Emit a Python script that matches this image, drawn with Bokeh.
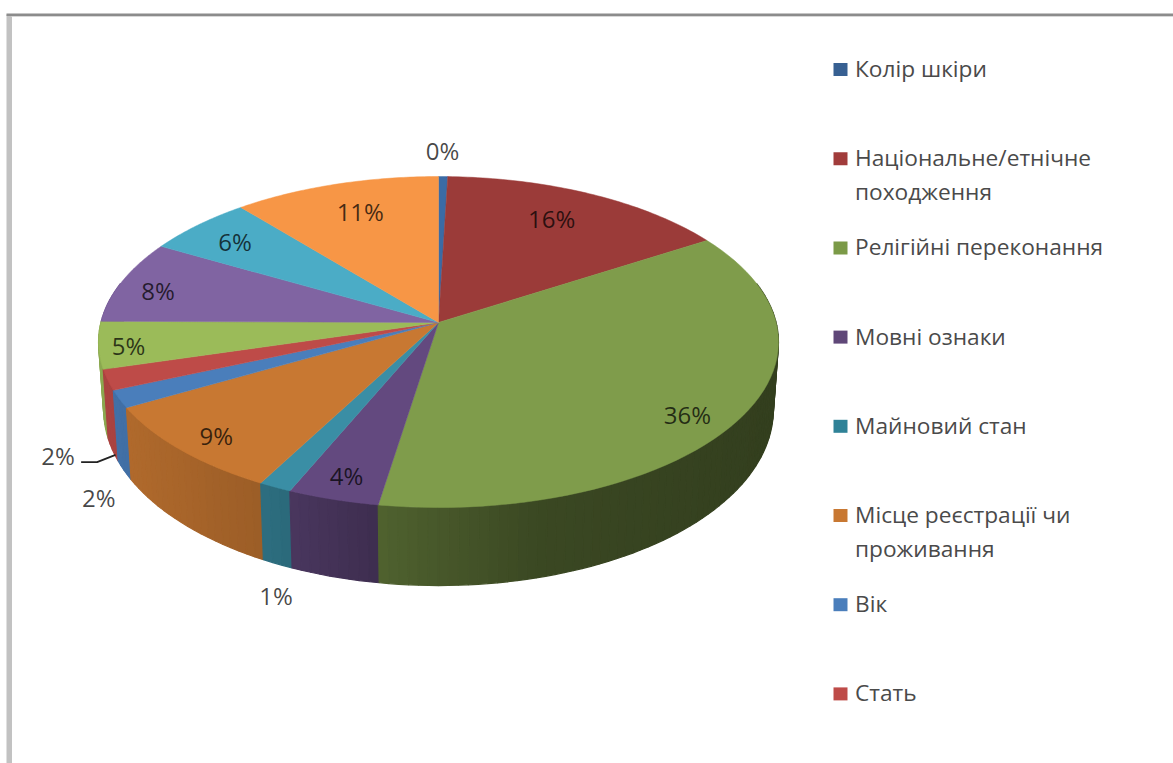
import numpy as np
from bokeh.plotting import figure
from bokeh.models import Range1d
from bokeh.core.properties import value
from bokeh.embed import file_html
from bokeh.resources import INLINE

# ---- data ----
slice_values = [0.49, 15.54, 36.49, 3.9, 1.4, 9.0, 1.7, 2.0, 4.6, 8.1, 5.75, 11.03]
slice_labels = ["0%", "16%", "36%", "4%", "1%", "9%", "2%", "2%", "5%", "8%", "6%", "11%"]
slice_colors = ["#3b6ba5", "#9b3b39", "#7f9c4b", "#63497f", "#3a8ea5", "#c87832",
                "#4a7ebb", "#be4b48", "#9bbb59", "#8064a2", "#4bacc6", "#f79646"]
legend_entries = [["Колір шкіри"], ["Національне/етнічне", "походження"],
                  ["Релігійні переконання"], ["Мовні ознаки"], ["Майновий стан"],
                  ["Місце реєстрації чи", "проживання"], ["Вік"], ["Стать"]]
legend_colors = ["#376092", "#a13c3b", "#7b9a47", "#5f4778", "#2f8297", "#c87832", "#4a7ebb", "#be4b48"]

# ---- layout (pixel frame of the picture) ----
CX, CY = 438.0, 322.0
A, B, K = 163.2, 337.6, 0.118
label_angle = [0.65, 28, 127.7, 196.1, 196, 223.3, 223, 234, 261, 283, 309, 341]
label_radius = [1.196, .772, .873, .884, 1.458, .887, 1.309, 1.27, .914, .872, .823, .773]
shade_x = [-340, -180, -65, 100, 340]
shade_f = [.90, .78, .63, .46, .40]


def project(theta, r=1.0):
    s, c = r * np.sin(theta), r * np.cos(theta)
    w = 1 + K * c
    return CX + B * s / w, CY - A * c / w


def project_low(theta):
    x, y = project(theta)
    return CX + (x - CX) * 0.985, y + 66 - 12 * np.cos(theta)


def shade(hex_color, f):
    rgb = [int(hex_color[i:i + 2], 16) for i in (1, 3, 5)]
    return "#%02x%02x%02x" % tuple(int(round(v * f)) for v in rgb)


p = figure(width=1173, height=763, output_backend="svg", toolbar_location=None,
           x_range=Range1d(0, 1173), y_range=Range1d(763, 0),
           x_axis_type=None, y_axis_type=None, min_border=0,
           outline_line_color=None, background_fill_color="white")
p.grid.visible = False

# frame remnants
p.quad(left=[6], right=[11.5], top=[14], bottom=[763], fill_color="#c2c2c2", line_color=None)
p.quad(left=[6], right=[1173], top=[13], bottom=[15.5], fill_color="#8c8c8c", line_color=None)
p.quad(left=[11], right=[1173], top=[15.5], bottom=[16.5], fill_color="#d8d8d8", line_color=None)

edges = np.cumsum([0] + slice_values) / sum(slice_values) * 2 * np.pi

# side wall, back strips first
strips = []
for i, col in enumerate(slice_colors):
    n = max(2, int(np.degrees(edges[i + 1] - edges[i]) / 1.5))
    t = np.linspace(edges[i], edges[i + 1], n + 1)
    for a, b in zip(t[:-1], t[1:]):
        if np.cos((a + b) / 2) > 0.25:
            continue
        x1, y1 = project(a)
        x2, y2 = project(b)
        x3, y3 = project_low(b)
        x4, y4 = project_low(a)
        f = float(np.interp((x1 + x2) / 2 - CX, shade_x, shade_f))
        strips.append((np.cos((a + b) / 2), [x1, x2, x3, x4], [y1, y2, y3, y4], shade(col, f)))
strips.sort(key=lambda v: -v[0])
p.patches([s[1] for s in strips], [s[2] for s in strips], fill_color=[s[3] for s in strips],
          line_color=[s[3] for s in strips], line_width=1.2)

# top faces
xs, ys = [], []
for i in range(len(slice_values)):
    t = np.linspace(edges[i], edges[i + 1], 60)
    x, y = project(t)
    xs.append([CX] + list(x))
    ys.append([CY] + list(y))
p.patches(xs, ys, fill_color=slice_colors, line_color=slice_colors, line_width=0.5)

# data labels
lx, ly = project(np.radians(label_angle), np.array(label_radius))
p.text(x=lx, y=ly - 1, text=slice_labels, text_font=value("Open Sans"), text_font_size="24px",
       text_align="center", text_baseline="middle", text_color="#000000", text_alpha=0.72)

# leader line of the second 2% label
red = 7
ex, ey = project_low((edges[red] + edges[red + 1]) / 2)
lead_x = [lx[red] + 23, lx[red] + 39, ex + 3]
lead_y = [ly[red] + 6, ly[red] + 6, ey + 5]
p.line(lead_x, lead_y, line_color="#222222", line_width=1.8)

# legend
for i, (lines, col) in enumerate(zip(legend_entries, legend_colors)):
    yc = 69 + 89.2 * i
    p.quad(left=[833], right=[847], top=[yc - 6.5], bottom=[yc + 6.5], fill_color=col, line_color=None)
    p.text(x=[854.5] * len(lines), y=[yc - 1 + 33.5 * k for k in range(len(lines))], text=lines,
           text_font=value("Open Sans"), text_font_size="22.7px", text_align="left",
           text_baseline="middle", text_color="#4a4a4a")

open("out.html", "w").write(file_html(p, INLINE))
